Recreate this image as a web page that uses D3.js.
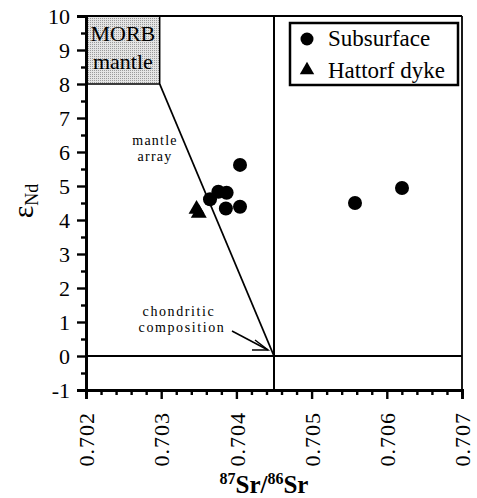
<!DOCTYPE html>
<html><head><meta charset="utf-8">
<script src="https://cdn.jsdelivr.net/npm/d3@7"></script>
<style>body{margin:0;background:#fff}svg{display:block}svg text{font-family:"Liberation Serif","Times New Roman",Times,serif;fill:#000}</style>
</head><body><svg id="c" width="477" height="498"></svg>
<script>
// ---- data ----
const subsurfaceSr = [0.703649, 0.70376, 0.70387, 0.70386, 0.704048, 0.704048, 0.705577, 0.706202];
const subsurfaceNd = [4.61, 4.83, 4.80, 4.34, 4.39, 5.62, 4.50, 4.94];
const hattorfSr = [0.70350, 0.70347];
const hattorfNd = [4.20, 4.32];
const xTicks = [0.702, 0.703, 0.704, 0.705, 0.706, 0.707];
const yTicks = [-1, 0, 1, 2, 3, 4, 5, 6, 7, 8, 9, 10];
const morbBox = {sr: [0.702, 0.70298], nd: [8, 10]};
const mantleArray = [[0.70298, 8], [0.7045, 0]];
const chondriteSr = 0.7045, chondriteNd = 0;

const FONT = '"Liberation Serif","Times New Roman",Times,serif';
const svg = d3.select("#c").attr("font-family", FONT);
const x = d3.scaleLinear().domain([0.702, 0.707]).range([86, 462]);
const y = d3.scaleLinear().domain([-1, 10]).range([390, 16]);

// MORB box
const pat = svg.append("defs").append("pattern").attr("id","stip").attr("width",2).attr("height",2).attr("patternUnits","userSpaceOnUse");
pat.append("rect").attr("width",2).attr("height",2).attr("fill","#e4e4e4");
pat.append("rect").attr("width",1).attr("height",1).attr("fill","#9a9a9a");
svg.append("rect").attr("x", x(morbBox.sr[0])).attr("y", y(morbBox.nd[1]))
  .attr("width", x(morbBox.sr[1]) - x(morbBox.sr[0])).attr("height", y(morbBox.nd[0]) - y(morbBox.nd[1]))
  .attr("fill", "url(#stip)").attr("stroke", "#000").attr("stroke-width", 1.5);
const mx = (x(morbBox.sr[0]) + x(morbBox.sr[1])) / 2;
svg.append("text").attr("x", mx).attr("y", 41).attr("text-anchor","middle").attr("font-size",22).text("MORB");
svg.append("text").attr("x", mx).attr("y", 69).attr("text-anchor","middle").attr("font-size",22).text("mantle");

// frame and reference lines
svg.append("line").attr("x1", x(0.702)).attr("x2", x(0.707)).attr("y1", y(10)).attr("y2", y(10)).attr("stroke","#000").attr("stroke-width",2);
svg.append("line").attr("x1", x(0.707)).attr("x2", x(0.707)).attr("y1", y(10)).attr("y2", y(-1)).attr("stroke","#000").attr("stroke-width",1.8);
svg.append("line").attr("x1", x(chondriteSr)).attr("x2", x(chondriteSr)).attr("y1", y(10)).attr("y2", y(-1)).attr("stroke","#000").attr("stroke-width",2);
svg.append("line").attr("x1", x(0.702)).attr("x2", x(0.707)).attr("y1", y(chondriteNd)).attr("y2", y(chondriteNd)).attr("stroke","#000").attr("stroke-width",2);
svg.append("line").attr("x1", x(mantleArray[0][0])).attr("y1", y(mantleArray[0][1]))
  .attr("x2", x(mantleArray[1][0])).attr("y2", y(mantleArray[1][1])).attr("stroke","#000").attr("stroke-width",1.8);

// axes
const yAxis = svg.append("g").attr("transform", `translate(${x(0.702)},0)`)
  .call(d3.axisLeft(y).tickValues(yTicks).tickSize(9).tickPadding(7).tickFormat(d3.format("d")));
const yMinor = svg.append("g").attr("transform", `translate(${x(0.702)},0)`)
  .call(d3.axisLeft(y).tickValues(d3.range(-0.5, 10, 1)).tickSize(5).tickFormat(""));
const xAxis = svg.append("g").attr("transform", `translate(0,${y(-1)})`)
  .call(d3.axisBottom(x).tickValues(xTicks).tickSize(9).tickFormat(d3.format(".3f")));
const xMinor = svg.append("g").attr("transform", `translate(0,${y(-1)})`)
  .call(d3.axisBottom(x).tickValues(d3.range(0, 25).filter(i => i % 5 !== 0).map(i => 0.702 + i * 0.0002)).tickSize(5).tickFormat(""));
[yAxis, yMinor, xAxis, xMinor].forEach(g => {
  g.attr("font-family", FONT);
  g.select(".domain").attr("stroke-width", 2.8).attr("stroke","#000");
  g.selectAll(".tick line").attr("stroke-width", 2.4).attr("stroke","#000");
});
yAxis.selectAll("text").attr("font-size", 22).attr("dy","0.34em").text(d => d < 0 ? "-" + Math.abs(d) : d);
xAxis.selectAll("text").attr("font-size", 22).attr("letter-spacing", 1)
  .attr("transform","rotate(-90)").attr("text-anchor","end").attr("x", -22).attr("y", 0).attr("dy","0.35em");

// axis titles
const yl = svg.append("text").attr("transform","translate(33,201) rotate(-90)").attr("text-anchor","middle");
yl.append("tspan").attr("font-size",30).text("ε");
yl.append("tspan").attr("font-size",18).attr("dy",5).text("Nd");
const xl = svg.append("text").attr("x", 264).attr("y", 493).attr("text-anchor","middle").attr("font-weight","bold").attr("font-size",25);
xl.append("tspan").attr("font-size",16).attr("dy",-9).text("87");
xl.append("tspan").attr("dy",9).text("Sr/");
xl.append("tspan").attr("font-size",16).attr("dy",-9).text("86");
xl.append("tspan").attr("dy",9).text("Sr");

// annotations
svg.append("text").attr("x",155).attr("y",145).attr("text-anchor","middle").attr("font-size",14).attr("letter-spacing",1.2).text("mantle");
svg.append("text").attr("x",155).attr("y",161).attr("text-anchor","middle").attr("font-size",14).attr("letter-spacing",1.2).text("array");
svg.append("text").attr("x",179).attr("y",316).attr("text-anchor","middle").attr("font-size",14).attr("letter-spacing",1.6).text("chondritic");
svg.append("text").attr("x",182).attr("y",332).attr("text-anchor","middle").attr("font-size",14).attr("letter-spacing",1.6).text("composition");
svg.append("line").attr("x1",232).attr("y1",331).attr("x2",x(chondriteSr)-6).attr("y2",y(chondriteNd)-6).attr("stroke","#000").attr("stroke-width",1.5);
svg.append("path").attr("d",`M${x(chondriteSr)-19},${y(chondriteNd)-16} L${x(chondriteSr)-6},${y(chondriteNd)-6} L${x(chondriteSr)-22},${y(chondriteNd)-6}`)
  .attr("fill","none").attr("stroke","#000").attr("stroke-width",1.5);

// points
svg.append("g").selectAll("circle").data(subsurfaceSr).join("circle")
  .attr("cx", d => x(d)).attr("cy", (d, i) => y(subsurfaceNd[i])).attr("r", 7).attr("fill","#000");
const tri = d3.symbol().type(d3.symbolTriangle).size(110);
svg.append("g").selectAll("path").data(hattorfSr).join("path")
  .attr("d", tri).attr("transform", (d, i) => `translate(${x(d)},${y(hattorfNd[i])})`).attr("fill","#000");

// legend
svg.append("rect").attr("x",290).attr("y",23).attr("width",168).attr("height",62).attr("fill","#fff").attr("stroke","#000").attr("stroke-width",2.5);
svg.append("circle").attr("cx",307).attr("cy",39).attr("r",6.5).attr("fill","#000");
svg.append("path").attr("d", d3.symbol().type(d3.symbolTriangle).size(90)).attr("transform","translate(307,70)").attr("fill","#000");
svg.append("text").attr("x",328).attr("y",46).attr("font-size",23).text("Subsurface");
svg.append("text").attr("x",328).attr("y",78).attr("font-size",23).text("Hattorf dyke");
</script></body></html>
